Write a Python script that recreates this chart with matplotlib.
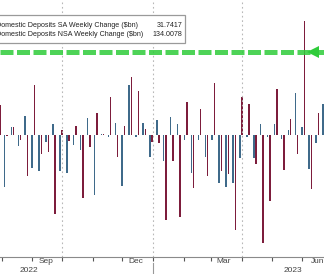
import numpy as np
import pandas as pd
import matplotlib
matplotlib.use("Agg")
import matplotlib.pyplot as plt
import matplotlib.dates as mdates
import matplotlib.transforms as mtrans
from matplotlib.patches import Rectangle

# weekly changes, $bn
weeks = pd.date_range("2022-07-29", periods=48, freq="7D")
sa = [np.nan, -84, 13, -18, 31, -54, -58, -12, 18, -58, -61, -16, -25, 27, -97, 2, -4, 20,
      -82, 81, -4, 20, -35, 24, -42, 29, 18, -8, -61, -8, -35, -8, -77, -84, -77, -37,
      -3, -37, 18, -3, 18, -7, 8, 68, 13, -55, -13, 50]
nsa = [48, -2, 13, -8, -66, 81, -31, -27, -127, 8, -10, 15, -102, -19, 35, 2, 62, -35,
       15, 93, 71, 10, -11, -13, -137, -42, -132, 53, -85, 42, -66, 84, -58, -63, -153,
       61, 50, -47, -174, -106, 74, -56, 26, -30, 184, -87, 35, -60]
labels = ["Domestic Deposits SA Weekly Change ($bn)", "Domestic Deposits NSA Weekly Change ($bn)"]
last_vals = ["31.7417", "134.0078"]
arrow_level = 134.0078

BLUE = "#3f6a8a"
RED = "#7d1d3c"
GREEN = "#2fcc3a"
FONT = ["Liberation Sans", "DejaVu Sans"]

fig = plt.figure(figsize=(3.24, 2.74), dpi=100)
ax = fig.add_axes([0, 17 / 274, 1, 257 / 274])

off = pd.Timedelta(hours=28)
ax.bar(weeks - off, sa, width=1.5, color=BLUE, linewidth=0)
ax.bar(weeks + off, nsa, width=1.5, color=RED, linewidth=0)

ax.set_ylim(-196.8, 217.7)
ax.set_xlim(pd.Timestamp("2022-07-30 08:00"), pd.Timestamp("2023-06-22 20:00"))

ax.set_yticks(np.arange(-150, 201, 50))
ax.yaxis.set_visible(False)
ax.grid(axis="y", color="#b8b8b8", linestyle=(0, (1.5, 2.5)), linewidth=0.8)

ax.xaxis.set_major_locator(mdates.MonthLocator(bymonth=[1, 4, 7, 10]))
ax.xaxis.set_minor_locator(mdates.MonthLocator())
ax.xaxis.set_major_formatter(plt.NullFormatter())
ax.grid(axis="x", which="major", color="#b8b8b8", linestyle=(0, (1.5, 2.5)), linewidth=0.8)
ax.tick_params(axis="x", which="both", length=3, width=0.8, color="#555555", direction="out")

for s in ["top", "left", "right"]:
    ax.spines[s].set_visible(False)
ax.spines["bottom"].set_color("#8a8a8a")
ax.spines["bottom"].set_linewidth(0.8)

trans = mtrans.blended_transform_factory(ax.transData, ax.transAxes)
for m in ["2022-09-15", "2022-12-15", "2023-03-13", "2023-06-16"]:
    d = pd.Timestamp(m)
    ax.text(d, -0.0185, d.strftime("%b"), transform=trans, ha="center", va="center",
            fontsize=6, color="#444444", family=FONT)
for y, d in [("2022", "2022-08-29"), ("2023", "2023-05-22")]:
    ax.text(pd.Timestamp(d), -0.051, y, transform=trans, ha="center", va="center",
            fontsize=6, color="#444444", family=FONT)
jan = pd.Timestamp("2023-01-01")
ax.plot([jan, jan], [-0.024, -0.07], transform=trans, color="#999999", lw=0.8, clip_on=False)

# green dashed arrow
xl = ax.get_xlim()
ax.plot([xl[0], xl[1]], [arrow_level, arrow_level], color=GREEN, lw=3.6, alpha=0.85,
        dashes=(2.6, 0.7), solid_capstyle="butt", zorder=4)
ax.plot([pd.Timestamp("2023-06-12")], [arrow_level], marker="<", markersize=8,
        color=GREEN, markeredgewidth=0, zorder=5)

# tooltip box
fig.patches.append(Rectangle((-5 / 324, 1 - 43 / 274), 190 / 324, 28 / 274,
                             transform=fig.transFigure, facecolor="white",
                             edgecolor="#9a9a9a", linewidth=0.9, zorder=10))
for i, (lab, val) in enumerate(zip(labels, last_vals)):
    yy = 1 - (25 + 10 * i) / 274
    fig.text(-4 / 324, yy, lab, ha="left", va="center", fontsize=5.1,
             color="#222222", family=FONT, zorder=11)
    fig.text(182 / 324, yy, val, ha="right", va="center", fontsize=5.1,
             color="#222222", family=FONT, zorder=11)

fig.savefig("out.png", dpi=100)
